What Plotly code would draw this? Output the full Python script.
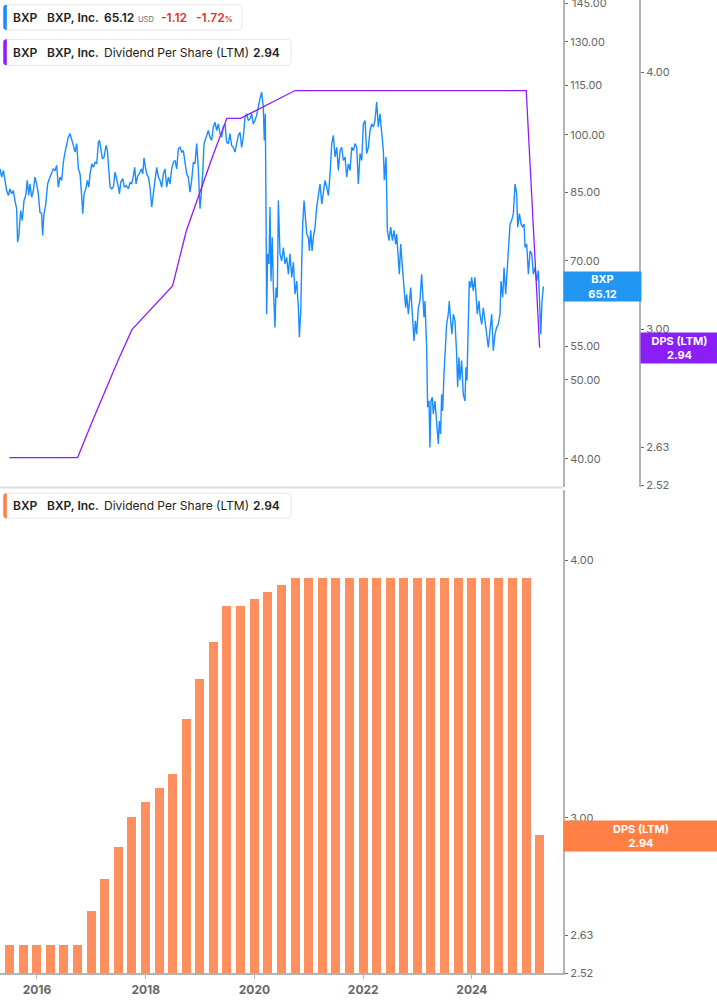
import math
from datetime import datetime
import plotly.graph_objects as go

# ---------------- data ----------------
# BXP price (decimal year, price USD)
price_t = [
    2015.320, 2015.350, 2015.381, 2015.411, 2015.442, 2015.473, 2015.503, 2015.534, 2015.565, 2015.595,
    2015.626, 2015.644, 2015.669, 2015.700, 2015.730, 2015.761, 2015.792, 2015.822, 2015.847, 2015.871,
    2015.902, 2015.933, 2015.963, 2015.994, 2016.025, 2016.055, 2016.086, 2016.104, 2016.129, 2016.159,
    2016.196, 2016.227, 2016.270, 2016.300, 2016.331, 2016.362, 2016.392, 2016.423, 2016.454, 2016.484,
    2016.515, 2016.546, 2016.576, 2016.607, 2016.638, 2016.668, 2016.699, 2016.730, 2016.760, 2016.791,
    2016.822, 2016.840, 2016.865, 2016.895, 2016.926, 2016.950, 2016.975, 2017.006, 2017.036, 2017.067,
    2017.098, 2017.128, 2017.147, 2017.171, 2017.202, 2017.233, 2017.269, 2017.294, 2017.318, 2017.343,
    2017.374, 2017.404, 2017.435, 2017.466, 2017.496, 2017.515, 2017.539, 2017.576, 2017.606, 2017.637,
    2017.680, 2017.711, 2017.741, 2017.772, 2017.796, 2017.821, 2017.852, 2017.882, 2017.919, 2017.944,
    2017.968, 2017.987,
    2018.017, 2018.048, 2018.078, 2018.109, 2018.140, 2018.170, 2018.201, 2018.232, 2018.262, 2018.293,
    2018.324, 2018.354, 2018.385, 2018.416, 2018.446, 2018.477, 2018.508, 2018.538, 2018.569, 2018.600,
    2018.630, 2018.661, 2018.691, 2018.722, 2018.753, 2018.783, 2018.814, 2018.845, 2018.875, 2018.906,
    2018.937, 2018.967, 2018.998, 2019.016, 2019.047, 2019.072, 2019.102, 2019.121, 2019.151, 2019.182,
    2019.213, 2019.243, 2019.274, 2019.305, 2019.335, 2019.366, 2019.397, 2019.427, 2019.458, 2019.488,
    2019.519, 2019.550, 2019.580, 2019.611, 2019.642, 2019.672, 2019.703, 2019.734, 2019.764, 2019.795,
    2019.826, 2019.856, 2019.887, 2019.918, 2019.948, 2019.979, 2020.010, 2020.040, 2020.071, 2020.102,
    2020.132, 2020.163, 2020.181, 2020.200, 2020.212, 2020.224, 2020.243, 2020.267, 2020.286, 2020.304,
    2020.328, 2020.347, 2020.377, 2020.396, 2020.420, 2020.439, 2020.469, 2020.500, 2020.531, 2020.561,
    2020.592, 2020.623, 2020.653, 2020.684, 2020.715, 2020.745, 2020.776, 2020.807, 2020.825, 2020.850,
    2020.868, 2020.886, 2020.911, 2020.929, 2020.960, 2020.990, 2021.009, 2021.033, 2021.058, 2021.082,
    2021.113, 2021.144, 2021.174, 2021.205, 2021.236, 2021.266, 2021.297, 2021.328, 2021.358, 2021.389,
    2021.420, 2021.450, 2021.481, 2021.512, 2021.542, 2021.573, 2021.604, 2021.634, 2021.665, 2021.696,
    2021.726, 2021.757, 2021.788, 2021.818, 2021.849, 2021.880, 2021.910, 2021.941, 2021.972, 2022.002,
    2022.033, 2022.063, 2022.094, 2022.125, 2022.155, 2022.186, 2022.217, 2022.247, 2022.278, 2022.309,
    2022.339, 2022.370, 2022.388, 2022.419, 2022.444, 2022.474, 2022.505, 2022.536, 2022.566, 2022.597,
    2022.615, 2022.646, 2022.665, 2022.689, 2022.720, 2022.750, 2022.781, 2022.799, 2022.830, 2022.849,
    2022.873, 2022.904, 2022.934, 2022.959, 2022.983, 2023.014, 2023.044, 2023.075, 2023.094, 2023.118,
    2023.136,
    2023.167, 2023.185, 2023.210, 2023.228, 2023.247, 2023.271, 2023.290, 2023.320, 2023.351, 2023.382,
    2023.400, 2023.424, 2023.443, 2023.461, 2023.486, 2023.510, 2023.535, 2023.565, 2023.584, 2023.608,
    2023.633, 2023.658, 2023.688, 2023.719, 2023.737, 2023.762, 2023.780, 2023.811, 2023.841, 2023.872,
    2023.891, 2023.909, 2023.927, 2023.952, 2023.976, 2023.995, 2024.025, 2024.056, 2024.074, 2024.099,
    2024.130, 2024.148, 2024.179, 2024.209, 2024.240, 2024.271, 2024.301, 2024.332, 2024.363, 2024.393,
    2024.424, 2024.455, 2024.485, 2024.516, 2024.534, 2024.565, 2024.590, 2024.620, 2024.651, 2024.675,
    2024.700, 2024.730, 2024.761, 2024.792, 2024.822, 2024.841, 2024.871, 2024.902, 2024.933, 2024.957,
    2024.976, 2025.006, 2025.037, 2025.068, 2025.098, 2025.129, 2025.160, 2025.190, 2025.221, 2025.240,
    2025.264, 2025.288, 2025.313,
]
price_v = [
    90.8, 88.7, 90.4, 87.9, 85.4, 84.2, 85.8, 84.6, 85.4, 83.0,
    81.1, 73.8, 75.5, 80.7, 78.5, 83.0, 84.2, 87.9, 84.2, 87.0,
    83.8, 85.4, 88.7, 87.0, 84.6, 80.3, 80.0, 75.2, 80.0, 81.9,
    87.0, 88.3, 90.0, 90.8, 90.4, 91.7, 86.2, 88.7, 87.9, 92.5,
    95.2, 97.0, 99.3, 100.3, 98.9, 97.0, 95.2, 97.5, 90.8, 89.5,
    83.8, 80.0, 84.6, 85.8, 87.9, 86.2, 89.5, 92.1, 91.2, 92.5,
    92.1, 97.9, 98.4, 95.6, 93.4, 93.9, 97.0, 95.6, 90.4, 86.2,
    85.8, 86.3, 90.0, 88.3, 86.2, 84.6, 87.4, 88.3, 86.2, 86.6,
    85.8, 87.4, 87.0, 89.1, 91.2, 87.0, 89.1, 89.5, 90.8, 89.5,
    93.7, 91.7,
    89.5, 88.7, 86.2, 81.5, 85.4, 87.9, 91.2, 88.7, 87.9, 86.2,
    89.5, 90.8, 86.2, 88.7, 87.0, 90.8, 92.5, 93.0, 90.8, 96.1,
    96.5, 95.2, 95.6, 92.1, 89.5, 88.7, 85.0, 87.9, 92.5, 92.1,
    97.5, 90.8, 81.1, 83.8, 89.5, 97.5, 98.9, 100.3, 101.2, 99.3,
    98.4, 102.2, 103.6, 101.2, 103.1, 100.3, 99.3, 102.2, 103.1, 97.9,
    97.5, 100.3, 97.0, 96.5, 95.2, 97.5, 99.8, 100.7, 96.5, 99.3,
    105.1, 106.1, 104.1, 104.6, 106.1, 103.1, 104.1, 105.6, 108.6, 110.7,
    112.8, 108.1, 98.4, 106.1, 81.5, 60.2, 71.4, 69.4, 81.5, 66.1,
    74.8, 64.9, 58.0, 64.9, 63.1, 83.0, 71.4, 70.0, 72.7, 69.4,
    70.7, 67.4, 71.4, 66.8, 69.7, 63.7, 66.1, 61.3, 56.4, 60.7,
    69.4, 77.7, 83.0, 80.0, 75.5, 74.8, 72.0, 76.3, 72.0, 74.8,
    77.0, 81.5, 84.6, 87.0, 82.2, 85.4, 87.9, 86.2, 84.2, 89.5,
    97.5, 99.8, 93.9, 96.5, 90.4, 95.6, 96.5, 93.0, 93.9, 88.7,
    92.1, 90.4, 96.5, 95.6, 97.5, 96.5, 87.0, 94.8, 93.0, 103.1,
    104.1, 94.8, 96.5, 101.2, 103.1, 102.2, 104.1, 109.7, 102.2, 106.1,
    101.2, 95.6, 87.9, 93.9, 76.3, 74.1, 77.0, 74.1, 76.3, 73.4,
    75.5, 70.7, 67.4, 73.4, 68.1, 64.9, 61.3, 63.7, 60.2, 62.5,
    64.9, 60.2, 55.8, 59.1, 56.9, 61.3, 62.5, 67.4, 63.7, 59.7,
    62.5,
    54.8, 46.3, 47.1, 41.3, 47.1, 47.6, 45.4, 47.1, 43.7, 41.7,
    44.5, 42.9, 48.0, 45.8, 50.8, 53.8, 58.5, 60.2, 62.5, 59.1,
    56.9, 60.2, 59.1, 53.8, 49.0, 53.3, 49.9, 52.8, 48.0, 47.1,
    51.8, 49.9, 56.9, 66.1, 64.9, 66.8, 64.3, 66.8, 63.7, 60.2,
    62.5, 60.2, 58.5, 61.3, 59.1, 56.9, 54.8, 57.5, 60.2, 54.3,
    56.9, 58.0, 58.5, 60.2, 66.1, 63.1, 68.7, 63.7, 68.7, 71.4,
    77.7, 78.5, 80.0, 87.0, 84.6, 77.0, 80.0, 77.7, 77.0, 77.7,
    72.7, 73.4, 67.4, 72.0, 71.4, 67.4, 68.7, 66.1, 68.1, 63.1,
    56.9, 62.5, 65.12,
]

# Dividend per share (LTM), quarter ends
dps_dates = [
    "2015-06-30", "2015-09-30", "2015-12-31",
    "2016-03-31", "2016-06-30", "2016-09-30", "2016-12-31",
    "2017-03-31", "2017-06-30", "2017-09-30", "2017-12-31",
    "2018-03-31", "2018-06-30", "2018-09-30", "2018-12-31",
    "2019-03-31", "2019-06-30", "2019-09-30", "2019-12-31",
    "2020-03-31", "2020-06-30", "2020-09-30", "2020-12-31",
    "2021-03-31", "2021-06-30", "2021-09-30", "2021-12-31",
    "2022-03-31", "2022-06-30", "2022-09-30", "2022-12-31",
    "2023-03-31", "2023-06-30", "2023-09-30", "2023-12-31",
    "2024-03-31", "2024-06-30", "2024-09-30", "2024-12-31",
    "2025-03-31",
]
dps_vals = [
    2.60, 2.60, 2.60,
    2.60, 2.60, 2.60, 2.70,
    2.80, 2.90, 3.00, 3.05,
    3.10, 3.15, 3.35, 3.50,
    3.65, 3.80, 3.80, 3.83,
    3.86, 3.89, 3.92, 3.92,
    3.92, 3.92, 3.92, 3.92,
    3.92, 3.92, 3.92, 3.92,
    3.92, 3.92, 3.92, 3.92,
    3.92, 3.92, 3.92, 3.92,
    2.94,
]

price_ticks = [40, 50, 55, 70, 85, 100, 115, 130, 145]
dps_ticks = [2.52, 2.63, 3.00, 4.00]
year_ticks = ["2016-01-01", "2018-01-01", "2020-01-01", "2022-01-01", "2024-01-01"]
year_labels = ["2016", "2018", "2020", "2022", "2024"]

last_price = 65.12
last_change = -1.12
last_change_pct = -1.72
last_dps = 2.94

# ---------------- helpers ----------------
W, H = 717, 1005          # reference pixel frame
FIG_H = 1013              # rendered height (the capture squeezes it to 1005)
FONT = "Inter"
BLUE = "#1a8cff"
PURPLE = "#8f1cff"
ORANGE_BAR = "#ff8f5e"
ORANGE_LBL = "#ff7f45"
TICK_GREY = "#666666"
AXIS_GREY = "#b3b3b3"


def dec_to_date(d):
    y = int(d)
    a = datetime(y, 1, 1)
    b = datetime(y + 1, 1, 1)
    return a + (b - a) * (d - y)


def px(x):
    return x / W


def py(y):
    return 1 - y / H


price_dates = [dec_to_date(t) for t in price_t]

x_range = [dec_to_date(2015.3195), dec_to_date(2025.674)]
XDOM = [0, 563 / W]

fig = go.Figure()

fig.add_trace(go.Scatter(
    x=price_dates, y=price_v, mode="lines", xaxis="x", yaxis="y",
    line=dict(color=BLUE, width=1.4), hoverinfo="skip", showlegend=False))

fig.add_trace(go.Scatter(
    x=dps_dates, y=dps_vals, mode="lines", xaxis="x", yaxis="y2",
    line=dict(color=PURPLE, width=1.3), hoverinfo="skip", showlegend=False))

fig.add_trace(go.Bar(
    x=dps_dates, y=dps_vals, xaxis="x2", yaxis="y3",
    marker=dict(color=ORANGE_BAR, line=dict(width=0)),
    width=60.5 * 86400000, hoverinfo="skip", showlegend=False))


def tick_text(v):
    return f"{v:.2f}"


tickfont = dict(family=FONT, size=11, color=TICK_GREY)

fig.update_layout(
    width=W, height=FIG_H,
    margin=dict(l=0, r=0, t=0, b=0),
    paper_bgcolor="white", plot_bgcolor="white",
    font=dict(family=FONT),
    bargap=0,
    xaxis=dict(domain=XDOM, range=x_range, type="date", anchor="y",
               showticklabels=False, showgrid=False, zeroline=False,
               showline=False, ticks="", matches="x2"),
    xaxis2=dict(domain=XDOM, range=x_range, type="date", anchor="y3",
                showgrid=False, zeroline=False, showline=True,
                linecolor=AXIS_GREY, linewidth=2,
                ticks="outside", ticklen=4, tickwidth=1, tickcolor=AXIS_GREY,
                tickvals=year_ticks, ticktext=year_labels,
                tickfont=dict(family=FONT, size=12, color=TICK_GREY, weight=700)),
    yaxis=dict(domain=[1 - 487 / H, 1], type="log",
               range=[math.log10(36.88), math.log10(146.36)],
               side="right", anchor="x", showgrid=False, zeroline=False,
               showline=True, linecolor=AXIS_GREY, linewidth=2,
               ticks="outside", ticklen=3, tickwidth=1, tickcolor=TICK_GREY,
               tickvals=price_ticks, ticktext=[tick_text(v) for v in price_ticks],
               tickfont=tickfont),
    yaxis2=dict(overlaying="y", type="log",
                range=[math.log10(2.5144), math.log10(4.3378)],
                side="right", anchor="free", position=640 / W,
                showgrid=False, zeroline=False,
                showline=True, linecolor=AXIS_GREY, linewidth=2,
                ticks="outside", ticklen=3, tickwidth=1, tickcolor=TICK_GREY,
                tickvals=dps_ticks, ticktext=[tick_text(v) for v in dps_ticks],
                tickfont=tickfont),
    yaxis3=dict(domain=[1 - 972.5 / H, 1 - 490 / H], type="log",
                range=[math.log10(2.52), math.log10(4.3266)],
                side="right", anchor="x2", showgrid=False, zeroline=False,
                showline=True, linecolor=AXIS_GREY, linewidth=2,
                ticks="outside", ticklen=3, tickwidth=1, tickcolor=TICK_GREY,
                tickvals=dps_ticks, ticktext=[tick_text(v) for v in dps_ticks],
                tickfont=tickfont),
)

shapes = []
annotations = []

# separator between panels
shapes.append(dict(type="line", xref="paper", yref="paper",
                   x0=0, x1=px(563), y0=py(487), y1=py(487),
                   line=dict(color="#dddddd", width=2)))


def rounded_rect(x0, y0, x1, y1, r=4):
    def P(x, y):
        return f"{px(x)},{py(y)}"
    return (f"M {P(x0 + r, y0)} L {P(x1 - r, y0)} Q {P(x1, y0)} {P(x1, y0 + r)} "
            f"L {P(x1, y1 - r)} Q {P(x1, y1)} {P(x1 - r, y1)} "
            f"L {P(x0 + r, y1)} Q {P(x0, y1)} {P(x0, y1 - r)} "
            f"L {P(x0, y0 + r)} Q {P(x0, y0)} {P(x0 + r, y0)} Z")


def legend_box(x0, y0, x1, y1, color):
    shapes.append(dict(type="path", xref="paper", yref="paper",
                       path=rounded_rect(x0, y0, x1, y1, 4),
                       fillcolor="white", line=dict(color="#e6e6e6", width=1)))
    shapes.append(dict(type="path", xref="paper", yref="paper",
                       path=(f"M {px(x0 + 3.5)},{py(y0)} L {px(x0 + 3.5)},{py(y1)} "
                             f"Q {px(x0)},{py(y1)} {px(x0)},{py(y1 - 3)} "
                             f"L {px(x0)},{py(y0 + 3)} Q {px(x0)},{py(y0)} {px(x0 + 3.5)},{py(y0)} Z"),
                       fillcolor=color, line=dict(width=0)))


def txt(x, y, text, size=12, color="#222222", weight=400):
    annotations.append(dict(xref="paper", yref="paper", x=px(x), y=py(y),
                            xanchor="left", yanchor="middle", showarrow=False,
                            borderpad=0, borderwidth=0,
                            text=text,
                            font=dict(family=FONT, size=size, color=color, weight=weight)))


RED = "#e0302a"
SB = 600

# legend 1 : price
legend_box(3.3, 4.7, 242, 30, BLUE)
txt(13, 17.5, "BXP", weight=SB)
txt(46.5, 17.5, "BXP, Inc.", weight=SB)
txt(104, 17.5, f"{last_price:.2f}", weight=SB)
txt(138, 19, "USD", size=7.5, color="#666666")
txt(160.5, 17.5, f"{last_change:.2f}", color=RED, weight=SB)
txt(196, 17.5, f"{last_change_pct:.2f}<span style='font-size:8px'>%</span>",
    color=RED, weight=SB)

# legend 2 : DPS line
legend_box(3.3, 39.3, 291, 65.3, PURPLE)
txt(13, 52.3, "BXP", weight=SB)
txt(46.5, 52.3, "BXP, Inc.", weight=SB)
txt(104, 52.3, "Dividend Per Share (LTM)")
txt(253, 52.3, f"{last_dps:.2f}", weight=SB)

# legend 3 : DPS bars
legend_box(3.3, 492.7, 291, 517.7, ORANGE_LBL)
txt(13, 505.2, "BXP", weight=SB)
txt(46.5, 505.2, "BXP, Inc.", weight=SB)
txt(104, 505.2, "Dividend Per Share (LTM)")
txt(253, 505.2, f"{last_dps:.2f}", weight=SB)

# top price tick label (sits at the very edge of the figure)
annotations.append(dict(xref="paper", yref="y", x=px(569.5), y=math.log10(145),
                        xanchor="left", yanchor="middle", showarrow=False,
                        text=tick_text(145), font=tickfont))

# right-side value labels
annotations.append(dict(xref="paper", yref="y", x=px(563), y=math.log10(last_price),
                        xanchor="left", yanchor="middle", showarrow=False,
                        width=77, height=29, borderpad=0, bgcolor="#2196f3",
                        text=f"<b>BXP</b><br><b>{last_price:.2f}</b>", align="center",
                        font=dict(family=FONT, size=11, color="white")))
annotations.append(dict(xref="paper", yref="y2", x=px(640), y=math.log10(last_dps),
                        xanchor="left", yanchor="middle", showarrow=False,
                        width=77, height=30, borderpad=0, bgcolor="#8a1ef7",
                        text=f"<b>DPS (LTM)</b><br><b>{last_dps:.2f}</b>", align="center",
                        font=dict(family=FONT, size=11, color="white")))
annotations.append(dict(xref="paper", yref="y3", x=px(563), y=math.log10(last_dps),
                        xanchor="left", yanchor="middle", showarrow=False,
                        width=154, height=30, borderpad=0, bgcolor=ORANGE_LBL,
                        text=f"<b>DPS (LTM)</b><br><b>{last_dps:.2f}</b>", align="center",
                        font=dict(family=FONT, size=11, color="white")))

fig.update_layout(shapes=shapes, annotations=annotations)

fig.write_html(
    "out.html",
    config={"displayModeBar": False},
    post_script=(
        "var h=document.documentElement, b=document.body;"
        "h.style.margin='0'; h.style.padding='0'; h.style.overflow='hidden';"
        "b.style.margin='0'; b.style.padding='0'; b.style.overflow='hidden';"
    ),
)
